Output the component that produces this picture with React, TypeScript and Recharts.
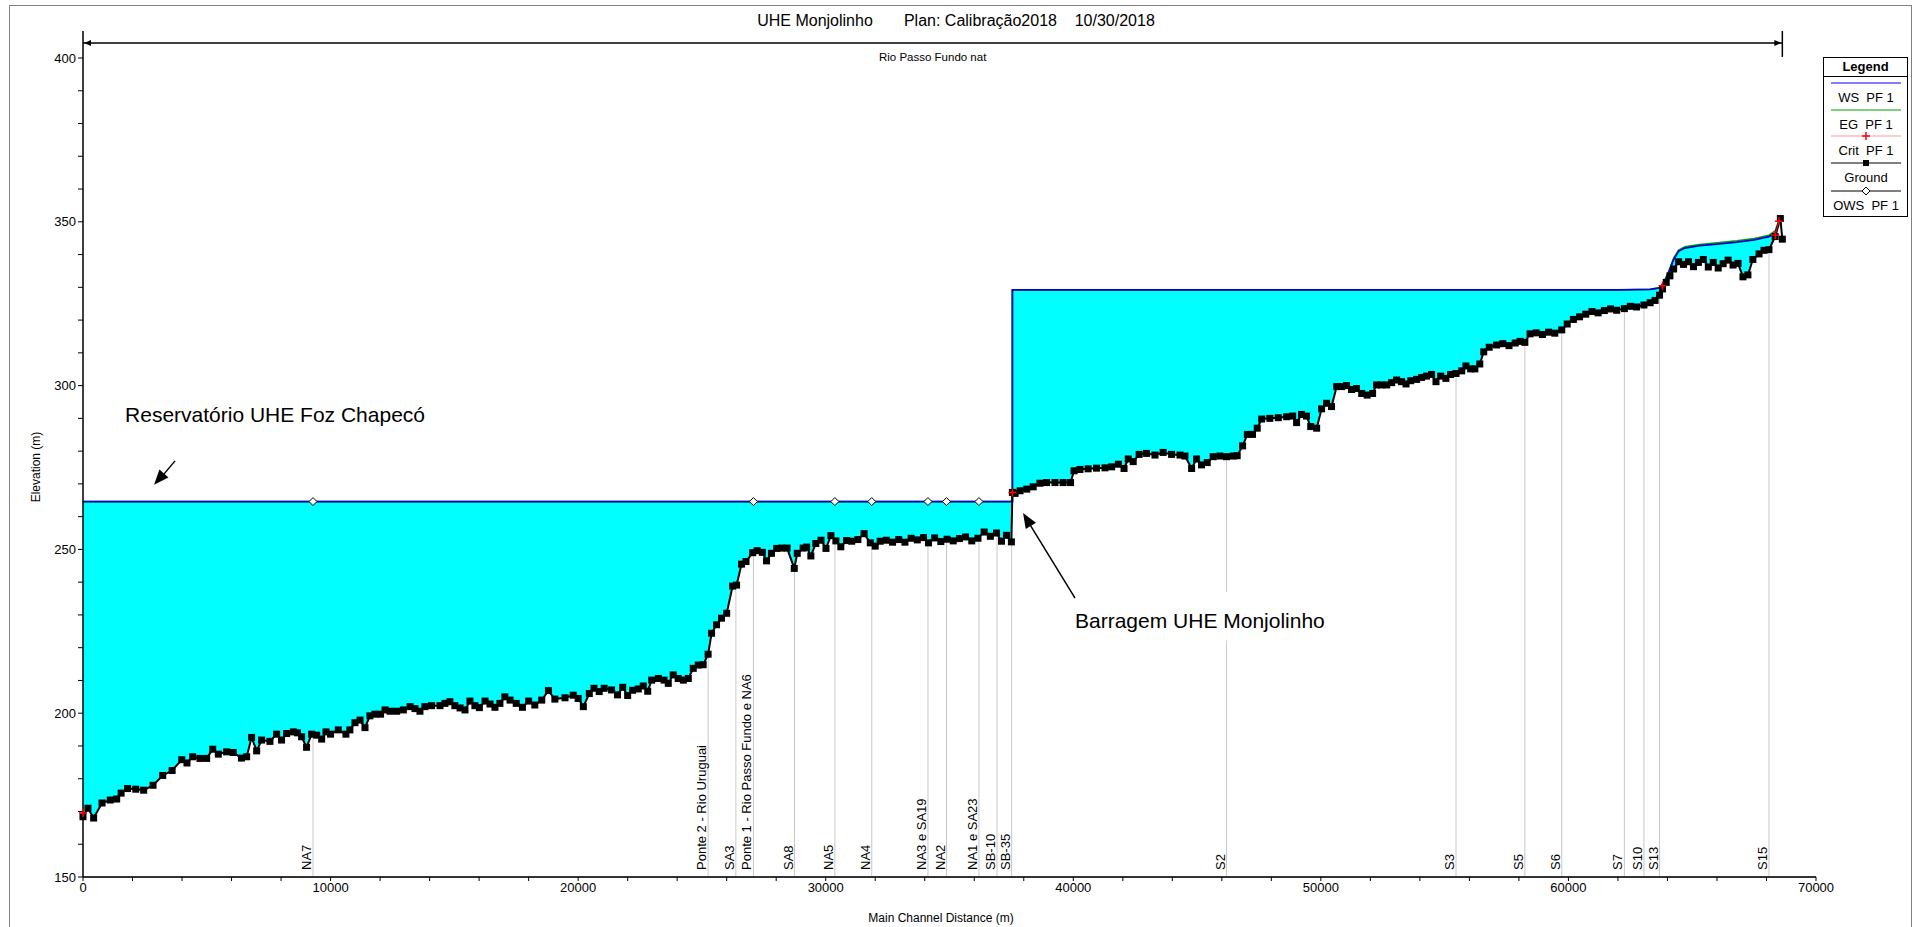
import { ComposedChart, Area, Line, XAxis, YAxis, ReferenceLine, ReferenceDot } from 'recharts';

const W = 1916;
const H = 927;
const FONT = '"Liberation Sans", Arial, Helvetica, sans-serif';

// ground profile (main channel distance in m, elevation in m)
const groundDist = [
  0, 200, 430, 770, 1100, 1360, 1540, 1800, 2130, 2450, 2830, 3220, 3600, 3990, 4200, 4430, 4725, 4995,
  5240, 5465, 5800, 6070, 6400, 6610, 6810, 7015, 7215, 7550, 7820, 8020, 8225, 8495, 8660, 8830, 9030,
  9235, 9440, 9640, 9815, 10000, 10310, 10620, 10780, 10985, 11190, 11390, 11590, 11795, 12020, 12200,
  12400, 12670, 12940, 13210, 13410, 13610, 13810, 14080, 14420, 14620, 14820, 15020, 15230, 15430, 15630,
  15830, 16010, 16240, 16440, 16640, 16840, 17040, 17250, 17500, 17750, 18000, 18250, 18530, 18800, 19060,
  19470, 19800, 20000, 20210, 20450, 20640, 20850, 21050, 21350, 21590, 21800, 22000, 22200, 22430, 22630,
  22810, 22970, 23240, 23470, 23640, 23840, 24040, 24250, 24450, 24650, 24850, 25050, 25250, 25390, 25590,
  25790, 26000, 26240, 26400, 26600, 26780, 27050, 27230, 27440, 27610, 27810, 28020, 28220, 28440, 28730,
  28850, 29090, 29230, 29400, 29600, 29810, 30010, 30210, 30410, 30610, 30840, 31050, 31300, 31550, 31800,
  32000, 32200, 32450, 32700, 32950, 33200, 33450, 33700, 33950, 34150, 34400, 34650, 34900, 35150, 35400,
  35650, 35900, 36150, 36400, 36650, 36900, 37100, 37300, 37500, 37540, 37650, 37850, 38120, 38380, 38650,
  38920, 39260, 39590, 39890, 40030, 40270, 40600, 40940, 41280, 41550, 41820, 42050, 42220, 42420, 42660,
  42960, 43300, 43630, 43970, 44310, 44510, 44780, 44980, 45180, 45410, 45650, 45920, 46190, 46460, 46620,
  46840, 47030, 47240, 47430, 47610, 47940, 48280, 48620, 48860, 49020, 49220, 49420, 49590, 49830, 50030,
  50230, 50430, 50640, 50840, 51040, 51240, 51440, 51650, 51870, 52090, 52250, 52450, 52660, 52860, 53060,
  53260, 53440, 53630, 53870, 54070, 54270, 54470, 54650, 54840, 55050, 55240, 55460, 55690, 55860, 56050,
  56220, 56420, 56580, 56800, 57100, 57350, 57600, 57850, 58050, 58240, 58450, 58700, 58950, 59200, 59450,
  59730, 59950, 60200, 60450, 60700, 60950, 61200, 61450, 61700, 61950, 62260, 62500, 62750, 63050, 63300,
  63500, 63680, 63800, 63950, 64100, 64250, 64450, 64650, 64850, 65050, 65250, 65450, 65650, 65850, 66050,
  66250, 66450, 66650, 66850, 67050, 67250, 67450, 67700, 67900, 68100, 68350, 68560, 68640,
];
const groundElev = [
  168.4, 171, 168, 172.6, 173.5, 173.8, 175.6, 177, 176.8, 176.5, 178, 181, 182.5, 185.8, 184.8, 186.7, 186.2, 186.2,
  189, 187.5, 188.2, 188, 186.3, 186.7, 192.6, 188.5, 191.8, 191.4, 193.6, 191.8, 193.8, 194.3, 194, 192.8, 189.6,
  193.6, 193.3, 192.1, 194.3, 193.6, 194.9, 193.6, 194.9, 197.1, 197.9, 195.6, 199.2, 199.7, 199.7, 201,
  200.6, 200.6, 201, 202, 201.4, 200.6, 202, 202.3, 202.3, 203, 203.5, 202.3, 201.6, 201, 203.7,
  202.3, 201.7, 203.7, 202.8, 201.8, 203, 205, 204, 203, 201.8, 203.7, 202.5, 204, 206.9, 204.3,
  204.7, 205.5, 204.5, 202, 206, 207.6, 206.6, 207.6, 207.1, 205.6, 207.9, 205.4, 207, 207.4, 208.3,
  206.7, 210.1, 210.6, 210.1, 209.1, 211.7, 210.6, 210.1, 210.6, 213.7, 214.7, 214.8, 218, 224.4, 227,
  229, 230.5, 238.8, 239.1, 245.5, 246.3, 249, 249.6, 249.1, 246.5, 248.8, 250.3, 250.4, 250.4, 244.2,
  248.8, 250.4, 250.7, 248, 251.8, 252.8, 250.3, 254.2, 252.6, 250.8, 252.7, 252.5, 253, 254.8, 252,
  251, 252.5, 252.8, 252.2, 253, 252.2, 253.4, 252.9, 253.6, 252, 253.5, 252.4, 253.1, 252.6, 253.3,
  253.8, 252.6, 253.4, 255.3, 254, 255, 252.5, 254.3, 252.3, 267.4, 267.1, 267.9, 268.4, 269.1, 270.2,
  270.4, 270.4, 270.4, 270.4, 274, 274.4, 274.6, 274.8, 274.9, 275.2, 276, 274.7, 277.6, 276.8, 279,
  279.3, 278.8, 279.6, 279, 278.8, 278.5, 274.7, 277.6, 275.8, 276.5, 278.3, 278.5, 278.3, 278.5, 278.6,
  281.6, 285.1, 285.1, 287, 289.8, 290, 290.2, 290.5, 290.7, 288.7, 291.2, 290.7, 287.5, 287, 292.9,
  294.6, 293.6, 299.7, 299.7, 300, 298.8, 299.1, 297.6, 297.1, 297.6, 300.2, 300.2, 300.2, 300.9, 301.7,
  301.2, 300.5, 301.5, 301.9, 302.5, 302.9, 303.4, 301.2, 302.9, 302.2, 303.4, 303.7, 304.5, 306, 305.1,
  305.1, 306.6, 310.3, 311.7, 312.4, 312.8, 312.2, 313, 313.5, 313.2, 315.8, 316.1, 315.6, 316.3, 316,
  317, 318.8, 320.2, 321, 321.8, 322.6, 322.2, 322.9, 323.4, 323, 323.5, 324.2, 324, 324.6, 325.3,
  326, 327.6, 329.5, 331.5, 333.5, 335.6, 337.8, 337, 337.8, 336.3, 337.6, 338.5, 336.2, 337.6, 335.9,
  337.2, 338.3, 336.8, 337.3, 333.2, 333.8, 338.5, 340.2, 341.3, 341.5, 345.5, 351, 344.7,
];

// water surface (WS PF 1) and energy grade (EG PF 1)
const wsDist = [0, 37540, 37540, 62000, 63300, 63680, 63870, 64050, 64250, 64450, 64700, 65300, 66000, 66800, 67500, 68100, 68350, 68560, 68640];
const wsElev = [264.6, 264.6, 329.2, 329.2, 329.4, 329.8, 331.5, 334.5, 338.5, 341, 342, 342.7, 343.2, 343.8, 344.5, 345.5, 346.5, 351.5, 351.5];
const egElev = [264.6, 264.6, 329.2, 329.2, 329.4, 329.9, 331.8, 334.9, 338.9, 341.4, 342.4, 343.1, 343.6, 344.2, 344.9, 345.9, 347.2, 351.8, 351.8];

// critical depth (null = not computed)
const critDist = [0, 18000, 37540, 50000, 63800, 66000, 68350, 68500];
const critElev = [169.5, null, 267.4, null, 330.5, null, 346, 350.2];

// observed water surface
const owsDist = [9290, 27080, 30370, 31860, 34130, 34880, 36190];
const owsElev = [264.6, 264.6, 264.6, 264.6, 264.6, 264.6, 264.6];

// labelled cross sections
const sectionNames = [
  'NA7', 'Ponte 2 - Rio Uruguai', 'SA3', 'Ponte 1 - Rio Passo Fundo e NA6', 'SA8', 'NA5', 'NA4', 'NA3 e SA19',
  'NA2', 'NA1 e SA23', 'SB-10', 'SB-35', 'S2', 'S3', 'S5', 'S6', 'S7', 'S10', 'S13', 'S15',
];
const sectionDist = [9290, 25250, 26370, 27080, 28740, 30370, 31860, 34130, 34880, 36190, 36920, 37510, 46190, 55460, 58240, 59730, 62260, 63050, 63680, 68100];
const sectionTop = [193.6, 218, 239, 249.1, 244.2, 252.7, 252, 252, 253.1, 253.4, 255, 252.3, 278.3, 303.7, 313.2, 317, 323.5, 324.6, 327.6, 341.5];

const reachName = 'Rio Passo Fundo nat';
const reachEnd = 68640;

const xTicks = [
  0, 2000, 4000, 6000, 8000, 10000, 12000, 14000, 16000, 18000, 20000, 22000, 24000, 26000, 28000, 30000, 32000, 34000,
  36000, 38000, 40000, 42000, 44000, 46000, 48000, 50000, 52000, 54000, 56000, 58000, 60000, 62000, 64000, 66000, 68000, 70000,
];
const yTicks = [150, 160, 170, 180, 190, 200, 210, 220, 230, 240, 250, 260, 270, 280, 290, 300, 310, 320, 330, 340, 350, 360, 370, 380, 390, 400];

const groundData = groundDist.map((d, i) => ({ d, ground: groundElev[i] }));
const wsData = wsDist.map((d, i) => ({ d, ws: wsElev[i], eg: egElev[i] }));
const critData = critDist.map((d, i) => ({ d, crit: critElev[i] }));
const owsData = owsDist.map((d, i) => ({ d, ows: owsElev[i] }));

const SquareDot = (p: any) => {
  if (p.cx == null || p.cy == null || Number.isNaN(p.cy)) return <g key={p.key} />;
  return <rect key={p.key} x={p.cx - 3.5} y={p.cy - 3.5} width={7} height={7} fill="#000" />;
};

const PlusDot = (p: any) => {
  if (p.cx == null || p.cy == null || Number.isNaN(p.cy) || p.value == null) return <g key={p.key} />;
  return <path key={p.key} d={`M${p.cx - 4},${p.cy}H${p.cx + 4}M${p.cx},${p.cy - 4}V${p.cy + 4}`} stroke="#ff0000" strokeWidth={1.5} />;
};

const DiamondDot = (p: any) => {
  if (p.cx == null || p.cy == null) return <g key={p.key} />;
  const { cx, cy } = p;
  return <path key={p.key} d={`M${cx},${cy - 4}L${cx + 4},${cy}L${cx},${cy + 4}L${cx - 4},${cy}Z`} fill="#fff" stroke="#000" strokeWidth={1} />;
};

const sectionShape = (name: string) => (p: any) => {
  const bottom = Math.max(p.y1, p.y2);
  return (
    <g>
      <line x1={p.x1} y1={p.y1} x2={p.x2} y2={p.y2} stroke="#c8c8c8" strokeWidth={1} />
      <text transform={`translate(${p.x1 - 2},${bottom - 7}) rotate(-90)`} fontSize={13} fill="#000">
        {name}
      </text>
    </g>
  );
};

const reachShape = (p: any) => {
  const { x1, y1, x2 } = p;
  return (
    <g>
      <line x1={x1} y1={y1} x2={x2} y2={y1} stroke="#000" strokeWidth={1.5} />
      <path d={`M${x1 + 1},${y1} l7,-3 l0,6 z`} fill="#000" />
      <path d={`M${x2 - 1},${y1} l-7,-3 l0,6 z`} fill="#000" />
      <line x1={x1} y1={y1 - 12} x2={x1} y2={y1 + 15} stroke="#000" strokeWidth={1.5} />
      <line x1={x2} y1={y1 - 12} x2={x2} y2={y1 + 14} stroke="#000" strokeWidth={1.5} />
      <text x={(x1 + x2) / 2} y={y1 + 18} textAnchor="middle" fontSize={11.5} fill="#000">
        {reachName}
      </text>
    </g>
  );
};

const arrowHead = (tx: number, ty: number, fx: number, fy: number) => {
  const a = Math.atan2(ty - fy, tx - fx);
  const len = 15;
  const w = 6;
  const bx = tx - len * Math.cos(a);
  const by = ty - len * Math.sin(a);
  const px = -Math.sin(a) * w;
  const py = Math.cos(a) * w;
  return `M${tx},${ty}L${bx + px},${by + py}L${bx - px},${by - py}Z`;
};

const reservoirNote = (p: any) => {
  const { cx, cy } = p;
  return (
    <g>
      <text x={cx - 29} y={cy - 63} fontSize={21} fill="#000">Reservatório UHE Foz Chapecó</text>
      <line x1={cx + 21} y1={cy - 24} x2={cx + 5} y2={cy - 5} stroke="#000" strokeWidth={1.5} />
      <path d={arrowHead(cx, cy, cx + 21, cy - 24)} fill="#000" />
    </g>
  );
};

const damNote = (p: any) => {
  const { cx, cy } = p;
  return (
    <g>
      <rect x={cx + 45} y={cy + 79} width={280} height={49} fill="#fff" />
      <text x={cx + 52} y={cy + 115} fontSize={21} fill="#000">Barragem UHE Monjolinho</text>
      <line x1={cx + 52} y1={cy + 85} x2={cx + 6} y2={cy + 10} stroke="#000" strokeWidth={1.5} />
      <path d={arrowHead(cx, cy, cx + 52, cy + 85)} fill="#000" />
    </g>
  );
};

const legendItems = [
  { name: 'WS  PF 1', color: '#0000ff', mark: 'none', y: 83 },
  { name: 'EG  PF 1', color: '#00a000', mark: 'none', y: 110 },
  { name: 'Crit  PF 1', color: '#ff9999', mark: 'plus', y: 136 },
  { name: 'Ground', color: '#000000', mark: 'square', y: 163 },
  { name: 'OWS  PF 1', color: '#000000', mark: 'diamond', y: 191 },
];

export default function App() {
  return (
    <div style={{ position: 'absolute', left: 0, top: 0, width: W, height: H, background: '#fff', fontFamily: FONT, overflow: 'hidden' }}>
      <ComposedChart width={W} height={H} margin={{ top: 58, right: 100, bottom: 10, left: 43 }}>
        <XAxis
          type="number"
          dataKey="d"
          domain={[0, 70000]}
          ticks={xTicks}
          interval={0}
          tickFormatter={(v: number) => (v % 10000 === 0 ? String(v) : '')}
          tick={{ fontSize: 13, fill: '#000' }}
          tickSize={4}
          tickLine={{ stroke: '#000' }}
          axisLine={{ stroke: '#333', strokeWidth: 2 }}
          height={40}
        />
        <YAxis
          type="number"
          domain={[150, 400]}
          ticks={yTicks}
          interval={0}
          tickFormatter={(v: number) => (v % 50 === 0 ? String(v) : '')}
          tick={{ fontSize: 13, fill: '#000' }}
          tickSize={5}
          tickLine={{ stroke: '#000' }}
          axisLine={{ stroke: '#000', strokeWidth: 1.5 }}
          width={40}
        />
        <Area data={wsData} dataKey="ws" type="linear" fill="#00ffff" fillOpacity={1} stroke="none" shapeRendering="crispEdges" isAnimationActive={false} activeDot={false} />
        <Area data={groundData} dataKey="ground" type="linear" fill="#ffffff" fillOpacity={1} stroke="none" shapeRendering="crispEdges" isAnimationActive={false} activeDot={false} />
        {sectionNames.map((name, i) => (
          <ReferenceLine
            key={name}
            segment={[
              { x: sectionDist[i], y: 150 },
              { x: sectionDist[i], y: sectionTop[i] },
            ]}
            shape={sectionShape(name)}
          />
        ))}
        <ReferenceLine
          segment={[
            { x: 0, y: 404.6 },
            { x: reachEnd, y: 404.6 },
          ]}
          ifOverflow="visible"
          shape={reachShape}
        />
        <Line data={wsData} dataKey="eg" type="linear" stroke="#00a000" strokeWidth={1.5} dot={false} activeDot={false} isAnimationActive={false} />
        <Line data={wsData} dataKey="ws" type="linear" stroke="#0000c8" strokeWidth={1.8} dot={false} activeDot={false} isAnimationActive={false} />
        <Line data={groundData} dataKey="ground" type="linear" stroke="#000" strokeWidth={2} dot={SquareDot} activeDot={false} isAnimationActive={false} />
        <Line data={critData} dataKey="crit" type="linear" stroke="#ff0000" strokeWidth={1} dot={PlusDot} activeDot={false} connectNulls={false} isAnimationActive={false} />
        <Line data={owsData} dataKey="ows" type="linear" stroke="none" dot={DiamondDot} activeDot={false} isAnimationActive={false} />
        <ReferenceDot x={2870} y={269.7} shape={reservoirNote} />
        <ReferenceDot x={37970} y={261.1} shape={damNote} />
      </ComposedChart>

      <svg width={W} height={H} style={{ position: 'absolute', left: 0, top: 0, pointerEvents: 'none' }} fontFamily={FONT}>
        <rect x={9.5} y={5.5} width={1902} height={940} fill="none" stroke="#808080" strokeWidth={1} />
        <text x={956} y={26} textAnchor="middle" fontSize={16} fill="#000" style={{ whiteSpace: 'pre' }}>
          {'UHE Monjolinho       Plan: Calibração2018    10/30/2018'}
        </text>
        <text transform="translate(40,467) rotate(-90)" textAnchor="middle" fontSize={12} fill="#000">
          Elevation (m)
        </text>
        <text x={941} y={922} textAnchor="middle" fontSize={12} fill="#000">
          Main Channel Distance (m)
        </text>

        <rect x={1823.5} y={57.5} width={84} height={159} fill="#fff" stroke="#000" strokeWidth={1} />
        <text x={1865.5} y={71} textAnchor="middle" fontSize={13} fontWeight="bold" fill="#000">Legend</text>
        <line x1={1823.5} y1={76.5} x2={1908} y2={76.5} stroke="#000" strokeWidth={1} />
        {legendItems.map((it) => (
          <g key={it.name}>
            <line x1={1831} y1={it.y} x2={1901} y2={it.y} stroke={it.color} strokeWidth={1} />
            {it.mark === 'plus' && <path d={`M1862,${it.y}H1870M1866,${it.y - 4}V${it.y + 4}`} stroke="#ff0000" strokeWidth={1.5} />}
            {it.mark === 'square' && <rect x={1863} y={it.y - 3} width={6} height={6} fill="#000" />}
            {it.mark === 'diamond' && <path d={`M1866,${it.y - 4}L1870,${it.y}L1866,${it.y + 4}L1862,${it.y}Z`} fill="#fff" stroke="#000" />}
            <text x={1866} y={it.y + 19} textAnchor="middle" fontSize={13} fill="#000" style={{ whiteSpace: 'pre' }}>
              {it.name}
            </text>
          </g>
        ))}
      </svg>
    </div>
  );
}
